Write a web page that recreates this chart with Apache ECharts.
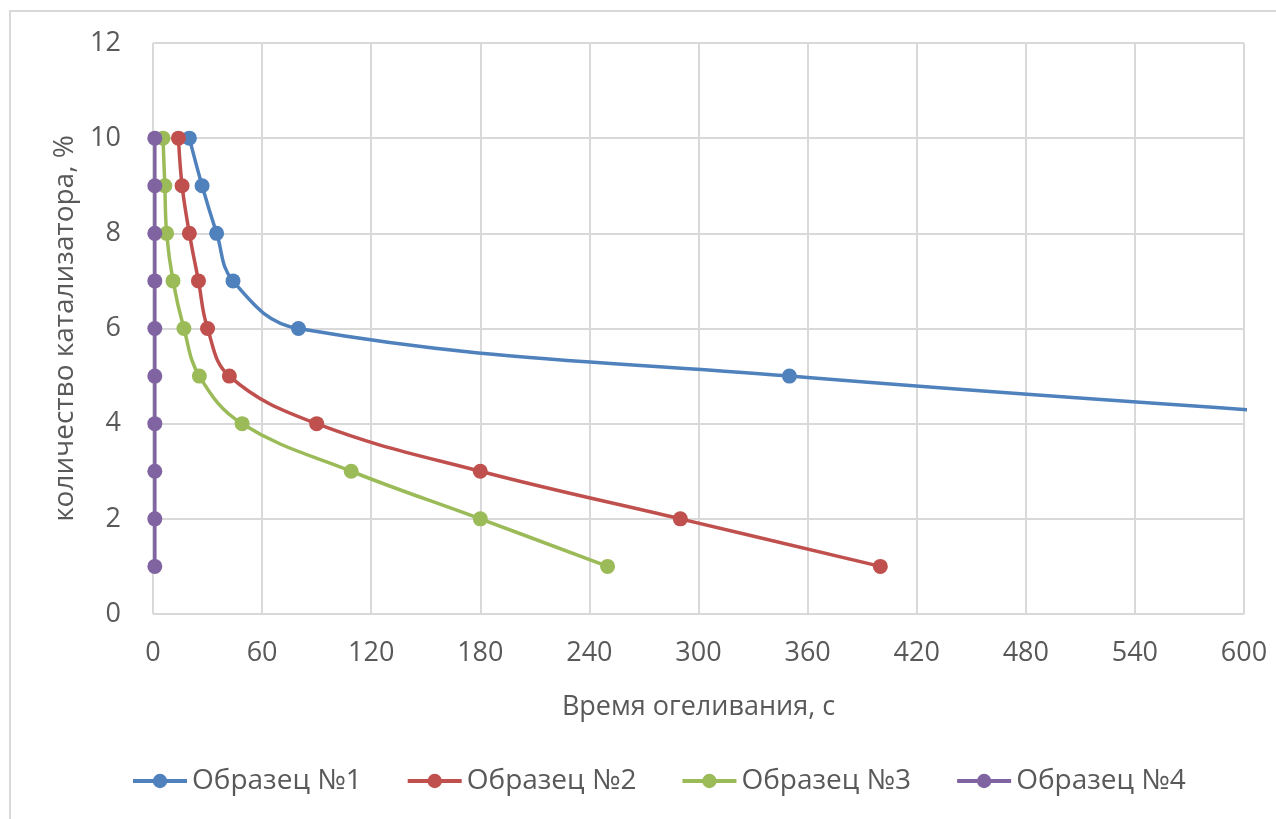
<!DOCTYPE html>
<html>
<head>
<meta charset="utf-8">
<style>
  html, body { margin: 0; padding: 0; background: #ffffff; }
  #chart { width: 1276px; height: 819px; }
</style>
<script src="https://cdn.jsdelivr.net/npm/echarts@6/dist/echarts.min.js"></script>
</head>
<body>
<div id="chart"></div>
<script>
// Catalyst amount (%) versus gelation time (s) for four samples
const seriesNames = ['Образец №1', 'Образец №2', 'Образец №3', 'Образец №4'];
const seriesColors = ['#4F81BD', '#C0504D', '#9BBB59', '#8064A2'];

// [time, s ; catalyst, %]
const sample1 = [[20, 10], [27, 9], [35, 8], [44, 7], [80, 6], [350, 5], [720, 4]];
const sample2 = [[14, 10], [16, 9], [20, 8], [25, 7], [30, 6], [42, 5], [90, 4], [180, 3], [290, 2], [400, 1]];
const sample3 = [[5.5, 10], [6.5, 9], [7.5, 8], [11, 7], [17, 6], [25.5, 5], [49, 4], [109, 3], [180, 2], [250, 1]];
const sample4 = [[1, 10], [1, 9], [1, 8], [1, 7], [1, 6], [1, 5], [1, 4], [1, 3], [1, 2], [1, 1]];

const xTitle = 'Время огеливания, с';
const yTitle = 'количество катализатора, %';

const FONT = '"Open Sans", "Liberation Sans", sans-serif';
const TEXT = '#595959';
const GRID = '#d9d9d9';

const allData = [sample1, sample2, sample3, sample4];

const chart = echarts.init(document.getElementById('chart'), null, { renderer: 'canvas' });

chart.setOption({
  backgroundColor: '#ffffff',
  animation: false,
  textStyle: { fontFamily: FONT },
  graphic: [{
    type: 'rect',
    shape: { x: 10, y: 11, width: 1300, height: 900 },
    style: { fill: 'none', stroke: GRID, lineWidth: 2 },
    silent: true,
    z: -1
  }],
  grid: { left: 153, top: 43, width: 1091, height: 571, containLabel: false },
  legend: {
    top: 762,
    left: 126,
    itemWidth: 54,
    itemHeight: 18,
    itemGap: 44,
    lineStyle: { width: 4 },
    textStyle: { fontFamily: FONT, fontSize: 28, color: TEXT, padding: [0, 0, 0, 0] },
    data: seriesNames
  },
  xAxis: {
    type: 'value',
    min: 0, max: 600, interval: 60,
    name: xTitle,
    nameLocation: 'middle',
    nameGap: 80,
    nameTextStyle: { fontFamily: FONT, fontSize: 27, color: TEXT },
    axisLine: { show: false },
    axisTick: { show: false },
    axisLabel: { margin: 26, fontFamily: FONT, fontSize: 27, color: TEXT },
    splitLine: { show: true, lineStyle: { color: GRID, width: 2 } }
  },
  yAxis: {
    type: 'value',
    min: 0, max: 12, interval: 2,
    name: yTitle,
    nameLocation: 'middle',
    nameGap: 74,
    nameRotate: 90,
    nameTextStyle: { fontFamily: FONT, fontSize: 28, color: TEXT },
    axisLine: { show: false },
    axisTick: { show: false },
    axisLabel: { margin: 32, fontFamily: FONT, fontSize: 27, color: TEXT },
    splitLine: { show: true, lineStyle: { color: GRID, width: 2 } }
  },
  series: allData.map((d, i) => ({
    name: seriesNames[i],
    type: 'line',
    data: d,
    smooth: 0.4,
    clip: true,
    symbol: 'circle',
    symbolSize: 15,
    color: seriesColors[i],
    lineStyle: { width: 3.5, color: seriesColors[i] },
    itemStyle: { color: seriesColors[i] },
    z: 2 + i
  }))
});
</script>
</body>
</html>
